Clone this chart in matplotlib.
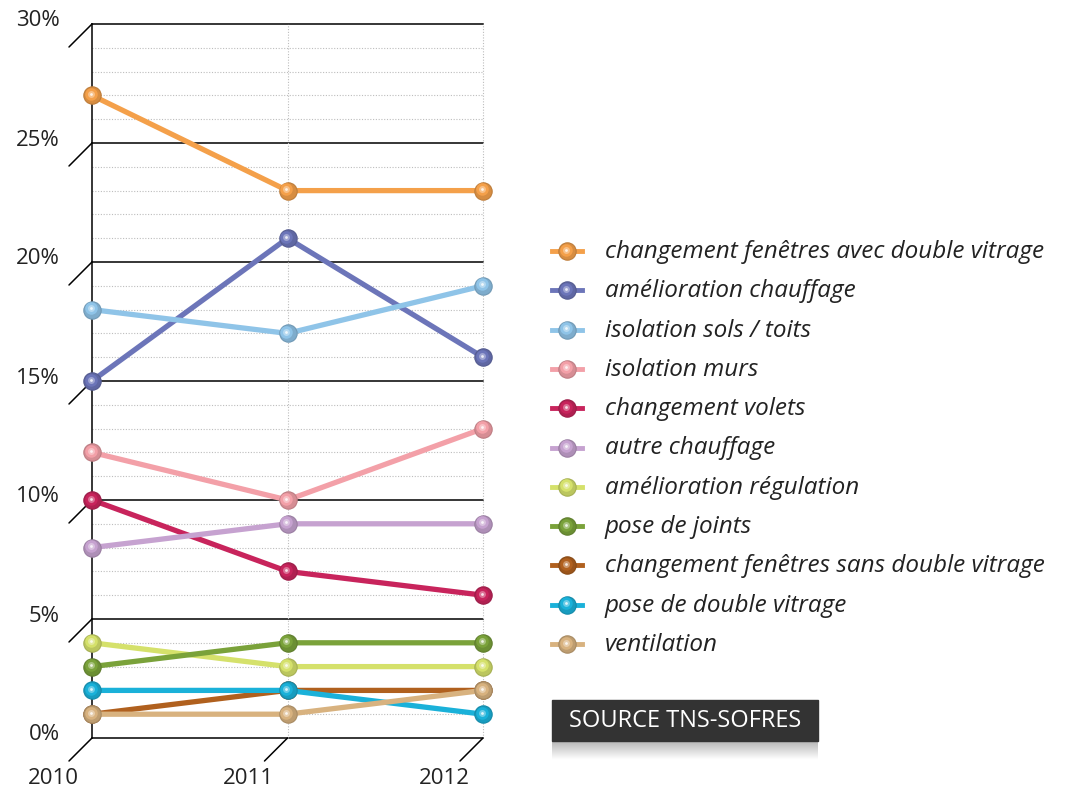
import matplotlib
matplotlib.use("Agg")
import matplotlib.pyplot as plt
import numpy as np
from matplotlib.transforms import offset_copy
from matplotlib.colors import to_rgb

plt.rcParams['font.family'] = ['Open Sans', 'DejaVu Sans']

years = [2010, 2011, 2012]
labels = [
    "changement fenêtres avec double vitrage",
    "amélioration chauffage",
    "isolation sols / toits",
    "isolation murs",
    "changement volets",
    "autre chauffage",
    "amélioration régulation",
    "pose de joints",
    "changement fenêtres sans double vitrage",
    "pose de double vitrage",
    "ventilation",
]
values = [
    [27, 23, 23],
    [15, 21, 16],
    [18, 17, 19],
    [12, 10, 13],
    [10, 7, 6],
    [8, 9, 9],
    [4, 3, 3],
    [3, 4, 4],
    [1, 2, 2],
    [2, 2, 1],
    [1, 1, 2],
]
colors = ["#F4A04A", "#6C75B9", "#8FC4E8", "#F3A0A8", "#C8245C", "#C6A2D0",
          "#D5E16B", "#7AA23A", "#B0601E", "#1AB1D9", "#D8B27F"]
major_ticks = [0, 5, 10, 15, 20, 25, 30]
tick_labels = ["0%", "5%", "10%", "15%", "20%", "25%", "30%"]
source = "SOURCE TNS-SOFRES"


def shade(c, f):
    r = np.array(to_rgb(c))
    if f < 0:
        return tuple(r * (1 + f))
    return tuple(r + (1 - r) * f)


def sphere(axis, xs, ys, c, z, tr_hl, **kw):
    # flat disc + lighter offset disc + white glint, a cheap 3d ball
    axis.plot(xs, ys, "o", ms=12.5, mfc=shade(c, -0.12), mec=shade(c, -0.22), mew=0.8,
              zorder=z, clip_on=False, **kw)
    axis.plot(xs, ys, "o", ms=9, mfc=c, mec="none", zorder=z + 0.01, clip_on=False,
              transform=tr_hl)
    axis.plot(xs, ys, "o", ms=5, mfc=shade(c, 0.35), mec="none", zorder=z + 0.02,
              clip_on=False, transform=tr_hl)
    axis.plot(xs, ys, "o", ms=2, mfc="white", mec="none", alpha=0.8, zorder=z + 0.03,
              clip_on=False, transform=tr_hl)


W, H = 1086, 790
fig = plt.figure(figsize=(W / 100, H / 100), dpi=100)
ax = fig.add_axes([92 / W, 1 - 738 / H, (483 - 92) / W, (738 - 24) / H])
ax.set_xlim(2010, 2012)
ax.set_ylim(0, 30)
ax.axis("off")

# grid: solid lines every 5 %, dotted every 1 %
for v in range(0, 31):
    if v % 5 == 0:
        ax.plot([2010, 2012], [v, v], color="black", lw=1.1, zorder=1, clip_on=False)
    else:
        ax.plot([2010, 2012], [v, v], color="#BDBDBD", lw=0.8, ls=(0, (1, 1.5)), zorder=1)
ax.plot([2010, 2010], [0, 30], color="black", lw=1.1, zorder=1, clip_on=False)
for yr in years[1:]:
    ax.plot([yr, yr], [0, 30], color="#BDBDBD", lw=0.8, ls=(0, (1, 1.5)), zorder=1, clip_on=False)

# perspective ticks and labels
for v, lab in zip(major_ticks, tick_labels):
    ax.annotate("", xy=(2010, v), xytext=(-23, -23), textcoords="offset pixels",
                arrowprops=dict(arrowstyle="-", lw=1.1, color="black", shrinkA=0, shrinkB=0))
    ax.annotate(lab, xy=(2010, v), xytext=(-32, 3), textcoords="offset pixels",
                ha="right", va="center", fontsize=16, color="#222222")
for yr in years:
    if yr != 2010:
        ax.annotate("", xy=(yr, 0), xytext=(-23, -23), textcoords="offset pixels",
                    arrowprops=dict(arrowstyle="-", lw=1.1, color="black", shrinkA=0, shrinkB=0))
    ax.annotate(str(yr), xy=(yr, 0), xytext=(-39, -40), textcoords="offset pixels",
                ha="center", va="center", fontsize=16, color="#222222")

hl = offset_copy(ax.transData, fig=fig, x=-1.5, y=1.5, units="dots")
for i, (vals, c) in enumerate(zip(values, colors)):
    z = 3 + i * 0.1
    ax.plot(years, vals, color=c, lw=3.8, zorder=z, clip_on=False, solid_capstyle="butt")
    sphere(ax, years, vals, c, z + 0.05, hl)

# legend
lax = fig.add_axes([0, 0, 1, 1])
lax.set_xlim(0, W)
lax.set_ylim(H, 0)
lax.axis("off")
lhl = offset_copy(lax.transData, fig=fig, x=-1.5, y=1.5, units="dots")
for i, (lab, c) in enumerate(zip(labels, colors)):
    y = 251 + i * 39.3
    lax.plot([552, 582], [y, y], color=c, lw=3.5, zorder=2)
    sphere(lax, [567], [y], c, 3, lhl)
    lax.text(605, y + 1, lab, ha="left", va="center", fontsize=17.5, style="italic", color="#222222")

# source box with fading shadow
grad = np.linspace(0.72, 1.0, 20)[:, None] * np.ones((1, 10))
lax.imshow(np.dstack([grad] * 3), extent=[552, 818, 760, 741], aspect="auto", zorder=1)
lax.add_patch(plt.Rectangle((552, 700), 266, 41, color="#333333", zorder=2))
lax.text(685, 721, source, ha="center", va="center", fontsize=17, color="white", zorder=3)
lax.set_xlim(0, W)
lax.set_ylim(H, 0)

fig.savefig("out.png", dpi=100)
